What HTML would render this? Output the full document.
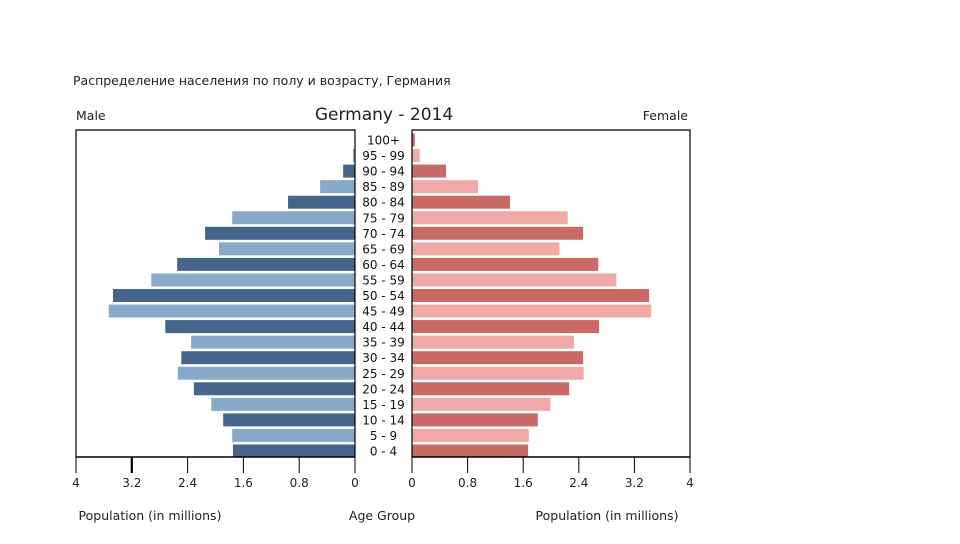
<!DOCTYPE html>
<html><head><meta charset="utf-8"><style>
body{margin:0;background:#fff;width:960px;height:540px;overflow:hidden;font-family:"DejaVu Sans","Liberation Sans",sans-serif}
</style></head><body>
<svg width="960" height="540" id="chart">
<text x="73" y="85" font-size="12.5" fill="#222">Распределение населения по полу и возрасту, Германия</text>
<text x="76" y="120" font-size="12.5" fill="#222">Male</text>
<text x="688" y="120" font-size="12.5" fill="#222" text-anchor="end">Female</text>
<text x="384" y="120" font-size="17" fill="#222" text-anchor="middle">Germany - 2014</text>
<text x="150" y="520" font-size="12.5" fill="#222" text-anchor="middle">Population (in millions)</text>
<text x="382" y="520" font-size="12.5" fill="#222" text-anchor="middle">Age Group</text>
<text x="607" y="520" font-size="12.5" fill="#222" text-anchor="middle">Population (in millions)</text>
<g id="g"></g>
</svg>
<script>
const ageGroups=["0 - 4","5 - 9","10 - 14","15 - 19","20 - 24","25 - 29","30 - 34","35 - 39","40 - 44","45 - 49","50 - 54","55 - 59","60 - 64","65 - 69","70 - 74","75 - 79","80 - 84","85 - 89","90 - 94","95 - 99","100+"];
const maleValues=[1.75,1.76,1.89,2.06,2.31,2.54,2.49,2.35,2.72,3.53,3.47,2.92,2.55,1.95,2.15,1.76,0.96,0.5,0.17,0.03,0.005];
const femaleValues=[1.67,1.68,1.81,1.99,2.26,2.47,2.46,2.33,2.69,3.44,3.41,2.94,2.68,2.12,2.46,2.24,1.41,0.95,0.49,0.11,0.04];
const tickValues=[0,0.8,1.6,2.4,3.2,4];
const tickLabels=["0","0.8","1.6","2.4","3.2","4"];
const NS="http://www.w3.org/2000/svg",g=document.getElementById('g');
function el(t,a,txt){const e=document.createElementNS(NS,t);for(const k in a)e.setAttribute(k,a[k]);if(txt!==undefined)e.textContent=txt;g.appendChild(e);return e;}
const maxV=4,L0=355,L4=76,R0=412,R4=690,topY=130,botY=457;
const xm=v=>L0-(L0-L4)*v/maxV, xf=v=>R0+(R4-R0)*v/maxV;
const yc=i=>451-i*(311/(ageGroups.length-1));
const bh=13;
ageGroups.forEach((a,i)=>{
 const dark=i%2===0;
 let r=el('rect',{x:xm(maleValues[i]),y:yc(i)-bh/2,width:L0-xm(maleValues[i]),height:bh,fill:dark?'#46658b':'#88a8cc'});
 
 
 let f=el('rect',{x:R0,y:yc(i)-bh/2,width:xf(femaleValues[i])-R0,height:bh,fill:dark?'#c96a66':'#f0a9a7'});
 
 
 let t=el('text',{x:383.5,y:yc(i)+4.5,'font-size':12,'text-anchor':'middle',fill:'#111'},a);
 
 
});
let fl=el('path',{d:`M${L4} ${botY}V${topY}H${L0}V${botY}`,fill:'none',stroke:'#000','stroke-width':1.2});


let fr=el('path',{d:`M${R0} ${botY}V${topY}H${R4}V${botY}`,fill:'none',stroke:'#000','stroke-width':1.2});


let al=el('line',{x1:L4,x2:L0,y1:botY,y2:botY,stroke:'#000','stroke-width':1.5});


let ar=el('line',{x1:R0,x2:R4,y1:botY,y2:botY,stroke:'#000','stroke-width':1.5});


tickValues.forEach((v,i)=>{
 [[xm(v),'male'],[xf(v),'female']].forEach(([x,s])=>{
  let l=el('line',{x1:x,x2:x,y1:botY,y2:botY+16,stroke:'#000','stroke-width':(s==='male'&&v===3.2)?2.2:1});
  
  
  let t=el('text',{x:x,y:botY+30,'font-size':12,'text-anchor':'middle',fill:'#222'},tickLabels[i]);
  
  
 });
});
</script>
</body></html>
